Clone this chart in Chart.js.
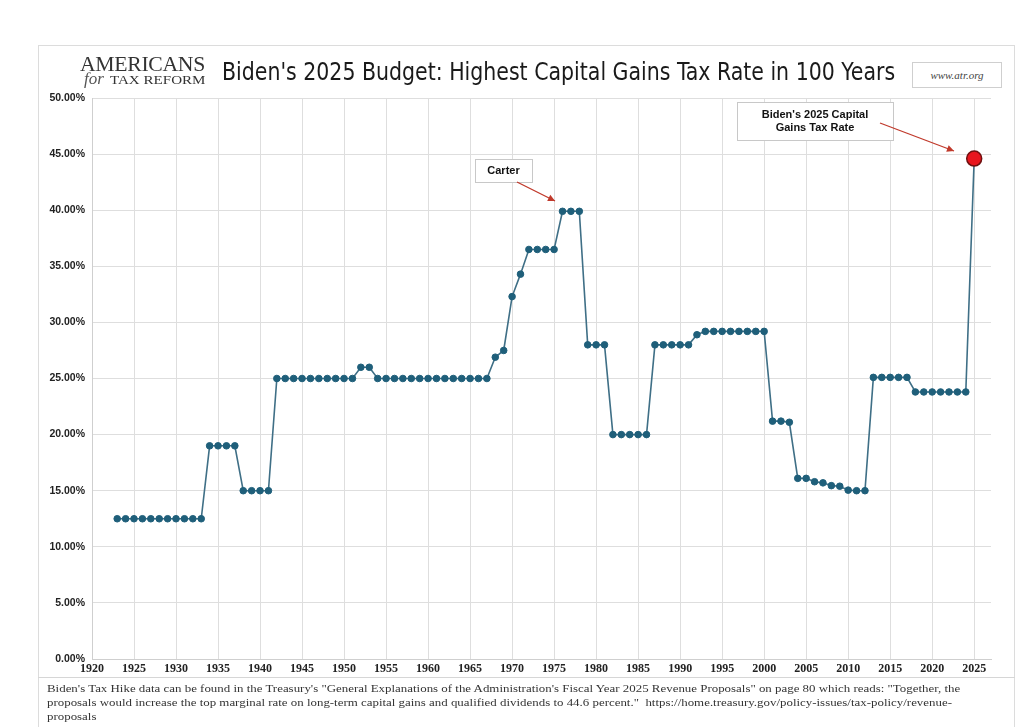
<!DOCTYPE html>
<html>
<head>
<meta charset="utf-8">
<script src="https://cdn.jsdelivr.net/npm/chart.js@4/dist/chart.umd.min.js"></script>
<style>
  html,body{margin:0;padding:0;background:#fff;}
  #wrap{position:relative;width:1024px;height:727px;overflow:hidden;}
  #frame{position:absolute;left:38px;top:45px;width:977px;height:690px;border:1px solid #dcdcdc;box-sizing:border-box;}
  #footline{position:absolute;left:38px;top:677px;width:977px;height:0;border-top:1px solid #d6d6d6;}
  canvas{position:absolute;left:0;top:0;}
  #title{position:absolute;left:222px;top:57px;font-family:"Liberation Sans Narrow","DejaVu Sans Condensed","Liberation Sans",sans-serif;font-size:25px;color:#1a1a1a;white-space:nowrap;transform-origin:0 0;}
  #logo1{position:absolute;left:80px;top:52px;font-family:"Liberation Serif",serif;font-size:21px;letter-spacing:-0.3px;color:#333;white-space:nowrap;transform-origin:0 0;}
  #logo2{position:absolute;left:84px;top:69px;font-family:"Liberation Serif",serif;font-style:italic;font-size:17px;color:#555;white-space:nowrap;}
  #logo3{position:absolute;left:110px;top:72px;font-family:"Liberation Serif",serif;font-size:13px;color:#333;white-space:nowrap;transform-origin:0 0;}
  #url{position:absolute;left:912px;top:62px;width:90px;height:26px;border:1px solid #cfcfcf;box-sizing:border-box;font-family:"Liberation Serif",serif;font-style:italic;font-size:11px;color:#444;text-align:center;line-height:24px;background:#fff;}
  #foot{position:absolute;left:47px;top:682px;font-family:"Liberation Serif",serif;font-size:10.5px;line-height:14px;color:#333;white-space:nowrap;transform-origin:0 0;}
</style>
</head>
<body>
<div id="wrap">
  <div id="frame"></div>
  <div id="footline"></div>
  <canvas id="c" width="1024" height="727"></canvas>
  <div id="logo1">AMERICANS</div>
  <div id="logo2">for</div>
  <div id="logo3">TAX REFORM</div>
  <div id="title">Biden's 2025 Budget: Highest Capital Gains Tax Rate in 100 Years</div>
  <div id="url">www.atr.org</div>
  <div id="foot">Biden's Tax Hike data can be found in the Treasury's "General Explanations of the Administration's Fiscal Year 2025 Revenue Proposals" on page 80 which reads: "Together, the<br>proposals would increase the top marginal rate on long-term capital gains and qualified dividends to 44.6 percent."&nbsp; https://home.treasury.gov/policy-issues/tax-policy/revenue-<br>proposals</div>
</div>
<script>
// ---- data ----
const years = [1923,1924,1925,1926,1927,1928,1929,1930,1931,1932,1933,
  1934,1935,1936,1937,1938,1939,1940,1941,
  1942,1943,1944,1945,1946,1947,1948,1949,1950,1951,1952,1953,
  1954,1955,1956,1957,1958,1959,1960,1961,1962,1963,1964,1965,1966,1967,
  1968,1969,1970,1971,1972,1973,1974,1975,1976,1977,1978,
  1979,1980,1981,1982,1983,1984,1985,1986,
  1987,1988,1989,1990,1991,1992,1993,1994,1995,1996,1997,1998,1999,2000,
  2001,2002,2003,2004,2005,2006,2007,2008,2009,2010,2011,2012,
  2013,2014,2015,2016,2017,2018,2019,2020,2021,2022,2023,2024];
const rates = [12.5,12.5,12.5,12.5,12.5,12.5,12.5,12.5,12.5,12.5,12.5,
  19.0,19.0,19.0,19.0,15.0,15.0,15.0,15.0,
  25,25,25,25,25,25,25,25,25,25,26,26,
  25,25,25,25,25,25,25,25,25,25,25,25,25,25,
  26.9,27.5,32.3,34.3,36.5,36.5,36.5,36.5,39.9,39.9,39.9,
  28,28,28,20,20,20,20,20,
  28,28,28,28,28,28.9,29.2,29.2,29.2,29.2,29.2,29.2,29.2,29.2,
  21.2,21.2,21.1,16.1,16.1,15.8,15.7,15.45,15.4,15.05,15.0,15.0,
  25.1,25.1,25.1,25.1,25.1,23.8,23.8,23.8,23.8,23.8,23.8,23.8];
const proposalYear = 2025;
const proposalRate = 44.6;
const xTickYears = [1920,1925,1930,1935,1940,1945,1950,1955,1960,1965,1970,1975,1980,1985,1990,1995,2000,2005,2010,2015,2020,2025];
const yTickValues = [0,5,10,15,20,25,30,35,40,45,50];

function fitWidth(id, w){
  const el=document.getElementById(id);
  const s=w/el.offsetWidth;
  el.style.transform='scaleX('+s+')';
}
fitWidth('title',673);
fitWidth('foot',913);
fitWidth('logo1',125);
fitWidth('logo3',95);

const lineData = years.map((y,i)=>({x:y,y:rates[i]}));
lineData.push({x:proposalYear,y:proposalRate});
const ptColors = lineData.map(p=>p.x===proposalYear?'#e8161e':'#1f5f7a');
const ptBorders = lineData.map(p=>p.x===proposalYear?'#6e1010':'#1f5f7a');
const ptRadius = lineData.map(p=>p.x===proposalYear?7.5:3.3);
const ptBorderW = lineData.map(p=>p.x===proposalYear?1.5:1);

const annotations = [
  {text:['Carter'], box:[475,159,532,182], from:[517,182], to:[555,201]},
  {text:["Biden's 2025 Capital","Gains Tax Rate"], box:[737,102,893,140], from:[880,123], to:[954,151]}
];

const annoPlugin = {
  id:'anno',
  afterDatasetsDraw(chart){
    const ctx = chart.ctx;
    ctx.save();
    annotations.forEach(a=>{
      const [x1,y1,x2,y2] = a.box;
      ctx.fillStyle='#fff';
      ctx.fillRect(x1,y1,x2-x1,y2-y1);
      ctx.strokeStyle='#c8c8c8';ctx.lineWidth=1;
      ctx.strokeRect(x1+0.5,y1+0.5,x2-x1,y2-y1);
      ctx.fillStyle='#111';
      ctx.font='bold 11px "Liberation Sans", Arial, sans-serif';
      ctx.textAlign='center';ctx.textBaseline='middle';
      const cx=(x1+x2)/2, h=y2-y1, n=a.text.length, lh=13;
      a.text.forEach((t,i)=>{ctx.fillText(t,cx,y1+h/2+(i-(n-1)/2)*lh);});
      const [fx,fy]=a.from,[tx,ty]=a.to;
      ctx.strokeStyle='#c0392b';ctx.fillStyle='#c0392b';ctx.lineWidth=1.3;
      ctx.beginPath();ctx.moveTo(fx,fy);ctx.lineTo(tx,ty);ctx.stroke();
      const ang=Math.atan2(ty-fy,tx-fx), L=7, W=3.5;
      ctx.beginPath();
      ctx.moveTo(tx,ty);
      ctx.lineTo(tx-L*Math.cos(ang)+W*Math.sin(ang), ty-L*Math.sin(ang)-W*Math.cos(ang));
      ctx.lineTo(tx-L*Math.cos(ang)-W*Math.sin(ang), ty-L*Math.sin(ang)+W*Math.cos(ang));
      ctx.closePath();ctx.fill();
    });
    ctx.restore();
  }
};

new Chart(document.getElementById('c'),{
  type:'line',
  data:{datasets:[{
    data:lineData,
    borderColor:'#3f6f86',
    borderWidth:1.6,
    pointBackgroundColor:ptColors,
    pointBorderColor:ptBorders,
    pointRadius:ptRadius,
    pointBorderWidth:ptBorderW,
    tension:0,
    fill:false
  }]},
  options:{
    responsive:false,
    animation:false,
    events:[],
    layout:{padding:{left:36,right:33,top:98,bottom:48}},
    plugins:{legend:{display:false},tooltip:{enabled:false},title:{display:false}},
    scales:{
      x:{
        type:'linear',min:1920,max:2027,
        afterBuildTicks(s){s.ticks=xTickYears.map(v=>({value:v}));},
        afterFit(s){s.height=20;},
        grid:{color:'#dedede',lineWidth:1,drawTicks:false},
        border:{color:'#cfcfcf'},
        ticks:{padding:3,maxRotation:0,autoSkip:false,color:'#222',
          font:{family:'"Liberation Serif", serif',size:12,weight:'bold'},
          callback:v=>String(v)}
      },
      y:{
        min:0,max:50,
        afterBuildTicks(s){s.ticks=yTickValues.map(v=>({value:v}));},
        afterFit(s){s.width=56;},
        grid:{color:'#dedede',lineWidth:1,drawTicks:false},
        border:{color:'#cfcfcf'},
        ticks:{padding:7,color:'#222',
          font:{family:'"Liberation Sans", Arial, sans-serif',size:10.5,weight:'bold'},
          callback:v=>v.toFixed(2)+'%'}
      }
    }
  },
  plugins:[annoPlugin]
});
</script>
</body>
</html>
